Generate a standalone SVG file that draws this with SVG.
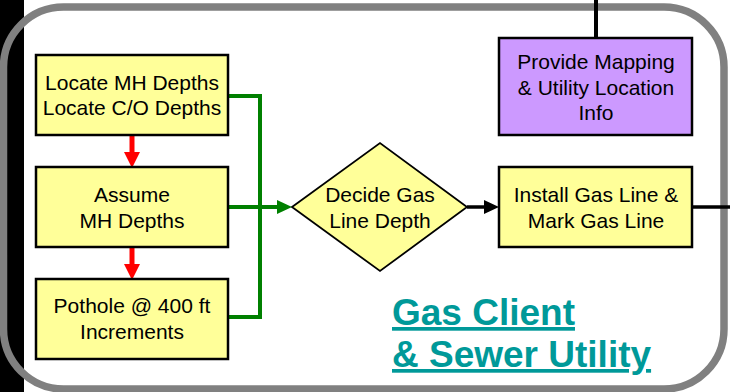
<svg xmlns="http://www.w3.org/2000/svg" width="730" height="392" viewBox="0 0 730 392">
<style>
.box{fill:#FFFF99;stroke:#000;stroke-width:2.5}
.purple{fill:#CC99FF;stroke:#000;stroke-width:2.5}
.dia{fill:#FFFF99;stroke:#000;stroke-width:1.8}
.t{font-family:"Liberation Sans",Arial,sans-serif;font-size:21px;fill:#000;text-anchor:middle}
.title{font-family:"Liberation Sans",Arial,sans-serif;font-size:37px;font-weight:bold;fill:#009999;text-decoration:underline}
.green{fill:none;stroke:#008000;stroke-width:4}
.red{fill:none;stroke:#FF0000;stroke-width:5}
.blk{fill:none;stroke:#000;stroke-width:3.5}
</style>
<defs>
<marker id="hr" markerUnits="userSpaceOnUse" markerWidth="16" markerHeight="16" refX="0" refY="8" orient="auto"><path d="M0,0 L16,8 L0,16 z" fill="#FF0000"/></marker>
<marker id="hg" markerUnits="userSpaceOnUse" markerWidth="16" markerHeight="16" refX="0" refY="7" orient="auto"><path d="M0,0 L15,7 L0,14 z" fill="#008000"/></marker>
<marker id="hb" markerUnits="userSpaceOnUse" markerWidth="16" markerHeight="16" refX="0" refY="7" orient="auto"><path d="M0,0 L15,7 L0,14 z" fill="#000"/></marker>
</defs>
<rect x="0" y="0" width="730" height="392" fill="#fff"/>
<rect x="0" y="0" width="24" height="392" fill="#000"/>
<rect x="3.5" y="7" width="720.5" height="382" rx="60" ry="60" fill="none" stroke="#808080" stroke-width="7.5"/>

<g id="connectors">
<path class="red" d="M132,135 V152" marker-end="url(#hr)"/>
<path class="red" d="M132,247 V264" marker-end="url(#hr)"/>
<path class="green" d="M228,96 H260 V317 H228"/>
<path class="green" d="M228,207 H277" marker-end="url(#hg)"/>
<path class="blk" d="M467,207 H484" marker-end="url(#hb)"/>
<path class="blk" d="M692,207 H730"/>
<path class="blk" d="M596,0 V38" style="stroke-width:4"/>
</g>

<g id="n-locate">
<rect class="box" x="36" y="55" width="192" height="80"/>
<text class="t" x="132" y="90">Locate MH Depths</text>
<text class="t" x="132" y="115">Locate C/O Depths</text>
</g>
<g id="n-assume">
<rect class="box" x="36" y="167" width="192" height="80"/>
<text class="t" x="132" y="202">Assume</text>
<text class="t" x="132" y="228">MH Depths</text>
</g>
<g id="n-pothole">
<rect class="box" x="36" y="279" width="192" height="80"/>
<text class="t" x="132" y="313">Pothole @ 400 ft</text>
<text class="t" x="132" y="339">Increments</text>
</g>
<g id="n-decide">
<polygon class="dia" points="292,207 380,143 467,207 380,271"/>
<text class="t" x="380" y="202">Decide Gas</text>
<text class="t" x="380" y="228">Line Depth</text>
</g>
<g id="n-install">
<rect class="box" x="499" y="167" width="193" height="80"/>
<text class="t" x="596" y="202">Install Gas Line &amp;</text>
<text class="t" x="596" y="228">Mark Gas Line</text>
</g>
<g id="n-mapping">
<rect class="purple" x="499" y="38" width="193" height="97"/>
<text class="t" x="596" y="69">Provide Mapping</text>
<text class="t" x="596" y="95">&amp; Utility Location</text>
<text class="t" x="596" y="120">Info</text>
</g>
<g id="title">
<text class="title" x="392" y="325">Gas Client</text>
<text class="title" x="392" y="367">&amp; Sewer Utility</text>
</g>
</svg>
